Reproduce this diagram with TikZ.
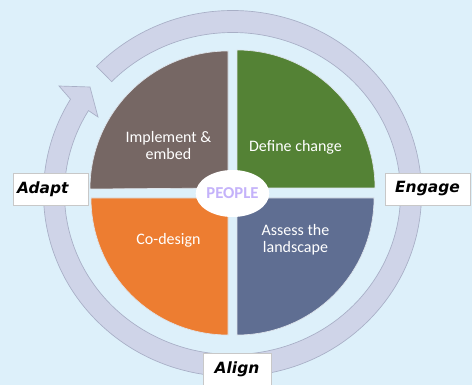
\documentclass[tikz,border=0pt]{standalone}
\usepackage{fontspec}
\setmainfont{Carlito}
\newfontfamily\handfont{DejaVu Sans}
\usetikzlibrary{shapes.geometric,calc}

\tikzset{every picture/.style={line width=0.75pt}}
\tikzset{
	quadrant/.style={draw={rgb, 255:red, 222; green, 228; blue, 235 }, line width=0.5pt},
	quadtext/.style={text=white, align=center, inner sep=0.75pt, font=\fontsize{12}{13}\selectfont},
	labelbox/.style={draw={rgb, 255:red, 200; green, 200; blue, 200 }, fill=white, line width=0.5pt, minimum height=24pt, inner sep=0.75pt, font=\handfont\bfseries\itshape\fontsize{11.6}{14}\selectfont}}

\begin{document}
\begin{tikzpicture}[x=0.75pt,y=0.75pt,yscale=-1,xscale=1]
	\useasboundingbox (0,0) rectangle (472,385);
	
	%Shape: Rectangle [background] 
	\fill [color={rgb, 255:red, 221; green, 240; blue, 250 }] (0,0) rectangle (472,385);
	\coordinate (ctr) at (232.5,193.5);
	
	%Shape: Arc [cycle arrow] 
	\draw [draw={rgb, 255:red, 168; green, 175; blue, 198 }, line width=0.5pt, fill={rgb, 255:red, 207; green, 212; blue, 232 }] ($(ctr)+(-136:189 and 183)$) arc [start angle=-136, end angle=211, x radius=189, y radius=183] -- (59,86) -- (90,87) -- (98,117) -- ($(ctr)+(211:168 and 161)$) arc [start angle=211, end angle=-136, x radius=168, y radius=161] -- cycle ;
	
	%Shape: Quarter Circle [implement] 
	\draw [quadrant, fill={rgb, 255:red, 118; green, 103; blue, 100 }] (228,188) -- (228,51) arc [start angle=-90, end angle=-180, radius=138] -- cycle ;
	%Shape: Quarter Circle [define] 
	\draw [quadrant, fill={rgb, 255:red, 84; green, 130; blue, 53 }] (237,188) -- (375,188) arc [start angle=0, end angle=-90, radius=138] -- cycle ;
	%Shape: Quarter Circle [codesign] 
	\draw [quadrant, fill={rgb, 255:red, 237; green, 125; blue, 49 }] (228,198) -- (91,198) arc [start angle=180, end angle=90, radius=137] -- cycle ;
	%Shape: Quarter Circle [assess] 
	\draw [quadrant, fill={rgb, 255:red, 95; green, 110; blue, 146 }] (237,198) -- (237,335) arc [start angle=90, end angle=0, radius=137] -- cycle ;
	
	% Text Node
	\draw (168.5,145.5) node [quadtext] (implement) {Implement \&\\embed};
	% Text Node
	\draw (295.5,147) node [quadtext] (define) {Define change};
	% Text Node
	\draw (168.5,240) node [quadtext] (codesign) {Co-design};
	% Text Node
	\draw (295.5,240) node [quadtext] (assess) {Assess the\\landscape};
	% Text Node
	\draw (ctr) node [ellipse, fill=white, minimum width=51.75pt, minimum height=35.25pt, inner sep=0pt, text={rgb, 255:red, 196; green, 178; blue, 250 }, font=\bfseries\fontsize{12.5}{14}\selectfont] (people) {PEOPLE};
	
	% Text Node
	\draw (50.5,189) node [labelbox, text width=50.25pt, inner xsep=3pt, align=left] (adapt) {Adapt};
	% Text Node
	\draw (427.5,189) node [labelbox, minimum width=63.75pt] (engage) {Engage};
	% Text Node
	\draw (237,369) node [labelbox, minimum width=51pt] (align) {Align};
	
\end{tikzpicture}
\end{document}
